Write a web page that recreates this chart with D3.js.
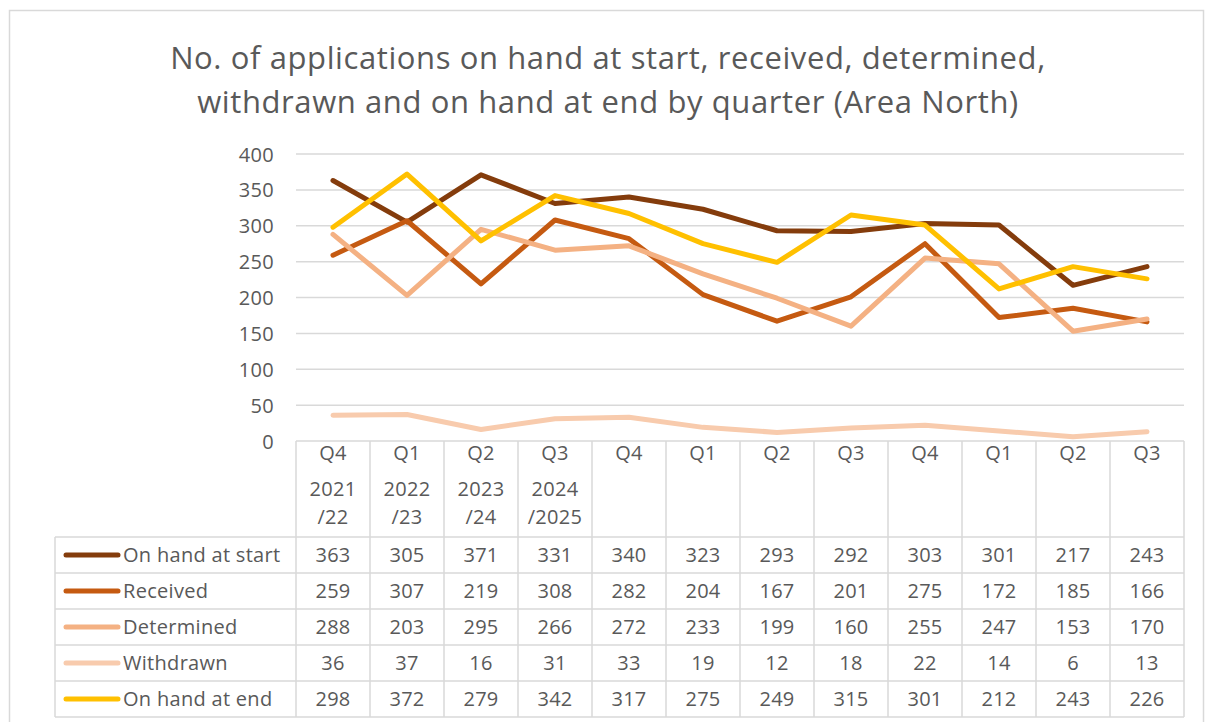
<!DOCTYPE html>
<html><head><meta charset="utf-8">
<script src="https://cdn.jsdelivr.net/npm/d3@7"></script>
<style>body{margin:0;background:#fff;} text{font-family:"Open Sans", sans-serif;}</style>
</head><body>
<svg id="c" width="1206" height="722"></svg>
<script>
const quarters = ["Q4","Q1","Q2","Q3","Q4","Q1","Q2","Q3","Q4","Q1","Q2","Q3"];
const yearLine1 = ["2021","2022","2023","2024","","","","","","","",""];
const yearLine2 = ["/22","/23","/24","/2025","","","","","","","",""];
const seriesNames = ["On hand at start","Received","Determined","Withdrawn","On hand at end"];
const onHandStart = [363,305,371,331,340,323,293,292,303,301,217,243];
const received    = [259,307,219,308,282,204,167,201,275,172,185,166];
const determined  = [288,203,295,266,272,233,199,160,255,247,153,170];
const withdrawn   = [36,37,16,31,33,19,12,18,22,14,6,13];
const onHandEnd   = [298,372,279,342,317,275,249,315,301,212,243,226];
const colors = ["#843C0C","#C55A11","#F4B183","#F8CBAD","#FFC000"];
const yTicks = [0,50,100,150,200,250,300,350,400];
const seriesValues = [onHandStart, received, determined, withdrawn, onHandEnd];

const svg = d3.select("#c");
const textColor = "#595959", gridColor = "#D9D9D9";
const fs = 20, ls = 0.3;
svg.append("rect").attr("x",9.5).attr("y",10.5).attr("width",1194).attr("height",720)
  .attr("fill","#fff").attr("stroke",gridColor).attr("stroke-width",1.5);

const title = ["No. of applications on hand at start, received, determined,",
               "withdrawn and on hand at end by quarter (Area North)"];
svg.selectAll("text.title").data(title).join("text").attr("class","title")
  .attr("x",608).attr("y",(d,i)=>69+i*44).attr("text-anchor","middle")
  .attr("font-size",31).attr("letter-spacing",0.6).attr("fill",textColor).text(d=>d);

const x0 = 296, x1 = 1184;
const x = d3.scaleBand().domain(d3.range(12)).range([x0,x1]);
const y = d3.scaleLinear().domain([0,400]).range([441,154]);

svg.append("g").selectAll("line").data(yTicks).join("line")
  .attr("x1",x0).attr("x2",x1).attr("y1",d=>y(d)).attr("y2",d=>y(d))
  .attr("stroke",gridColor).attr("stroke-width",1.5);

const yAxis = d3.axisLeft(y).tickValues(yTicks).tickSize(0).tickPadding(0);
const ga = svg.append("g").attr("transform","translate(274,0)").call(yAxis);
ga.select(".domain").remove();
ga.selectAll("text").attr("font-size",fs).attr("letter-spacing",ls).attr("fill",textColor)
  .attr("font-family","'Open Sans', sans-serif").attr("dy","0.35em");

const line = d3.line().x((d,i)=>x(i)+x.bandwidth()/2).y(d=>y(d));
svg.append("g").selectAll("path").data(seriesValues).join("path")
  .attr("d",line).attr("fill","none").attr("stroke",(d,i)=>colors[i])
  .attr("stroke-width",5).attr("stroke-linejoin","round").attr("stroke-linecap","round");

const headTop = 441, headBottom = 537, rowH = 36, legendLeft = 55;
const tableBottom = headBottom + rowH*5;
const tg = svg.append("g");
d3.range(13).forEach(i=>{
  const xx = i<12 ? x(i) : x1;
  tg.append("line").attr("x1",xx).attr("x2",xx).attr("y1",headTop).attr("y2",tableBottom)
    .attr("stroke",gridColor).attr("stroke-width",1.5);
});
tg.append("line").attr("x1",legendLeft).attr("x2",legendLeft).attr("y1",headBottom).attr("y2",tableBottom)
  .attr("stroke",gridColor).attr("stroke-width",1.5);
d3.range(6).forEach(r=>{
  tg.append("line").attr("x1",legendLeft).attr("x2",x1)
    .attr("y1",headBottom+r*rowH).attr("y2",headBottom+r*rowH)
    .attr("stroke",gridColor).attr("stroke-width",1.5);
});
const hc = (i)=>x(i)+x.bandwidth()/2;
tg.selectAll("text.q").data(quarters).join("text").attr("class","q")
  .attr("x",(d,i)=>hc(i)).attr("y",460).attr("text-anchor","middle")
  .attr("font-size",fs).attr("letter-spacing",ls).attr("fill",textColor).text(d=>d);
tg.selectAll("text.y1").data(yearLine1).join("text").attr("class","y1")
  .attr("x",(d,i)=>hc(i)).attr("y",496).attr("text-anchor","middle")
  .attr("font-size",fs).attr("letter-spacing",ls).attr("fill",textColor).text(d=>d);
tg.selectAll("text.y2").data(yearLine2).join("text").attr("class","y2")
  .attr("x",(d,i)=>hc(i)).attr("y",524).attr("text-anchor","middle")
  .attr("font-size",fs).attr("letter-spacing",ls).attr("fill",textColor).text(d=>d);
seriesValues.forEach((vals,r)=>{
  const cy = headBottom + r*rowH + rowH/2;
  tg.append("line").attr("x1",66).attr("x2",118).attr("y1",cy).attr("y2",cy)
    .attr("stroke",colors[r]).attr("stroke-width",5).attr("stroke-linecap","round");
  tg.append("text").attr("x",123).attr("y",cy).attr("dy","0.35em")
    .attr("font-size",fs).attr("letter-spacing",ls).attr("fill",textColor).text(seriesNames[r]);
  tg.selectAll("text.v"+r).data(vals).join("text").attr("class","v"+r)
    .attr("x",(d,i)=>hc(i)).attr("y",cy).attr("dy","0.35em").attr("text-anchor","middle")
    .attr("font-size",fs).attr("letter-spacing",ls).attr("fill",textColor).text(d=>d);
});
</script>
</body></html>
